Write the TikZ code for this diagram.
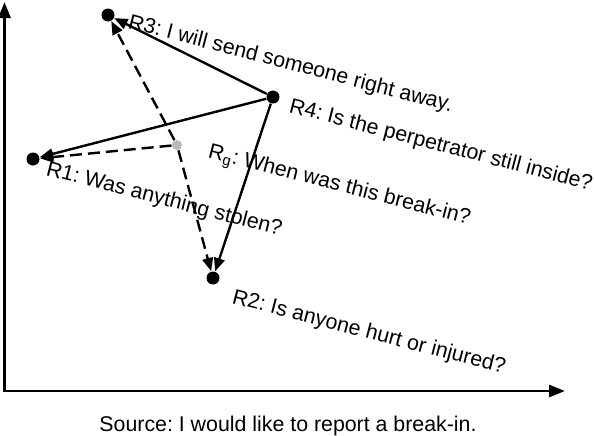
\documentclass[tikz,border=0pt]{standalone}
\usepackage{fontspec}
\setmainfont{Liberation Sans}
\usetikzlibrary{arrows.meta}
\frenchspacing
\tikzset{every picture/.style={line width=0.75pt}}
\tikzset{
  dot/.style={circle,fill=black,inner sep=0pt,minimum size=9.75pt},
  gdot/.style={circle,fill=black!27,inner sep=0pt,minimum size=7.5pt},
  lbl/.style={anchor=base west,inner sep=0pt,rotate=-14.5,font=\fontsize{16}{19}\selectfont},
  move/.style={line width=1.8pt,-{Triangle[length=10pt,width=8pt]}},
  guess/.style={move,dash pattern=on 9pt off 4.5pt},
  axis/.style={line width=2.2pt,{Triangle[length=12pt,width=9pt]}-{Triangle[length=12pt,width=9pt]}}
}

\begin{document}
\begin{tikzpicture}[x=0.75pt,y=0.75pt,yscale=-1,xscale=1]
\useasboundingbox (0,0) rectangle (594,436);
%Axes
\coordinate (ytop) at (4.5,2);
\coordinate (origin) at (4.5,391);
\coordinate (xend) at (565,391);
\draw [axis] (ytop) -- (origin) -- (xend);
% Text Node
\node [lbl] (t3) at (127,28) {R3: I will send someone right away.};
% Text Node
\node [lbl] (t4) at (288,112) {R4: Is the perpetrator still inside?};
% Text Node
\node [lbl] (tg) at (207,157) {R\textsubscript{g}: When was this break-in?};
% Text Node
\node [lbl] (t1) at (45,175) {R1: Was anything stolen?};
% Text Node
\node [lbl] (t2) at (231,303) {R2: Is anyone hurt or injured?};
% Text Node
\node [anchor=base,inner sep=0pt,font=\fontsize{16}{19}\selectfont] (src) at (288,431) {Source: I would like to report a break-in.};
%Shape: Circles
\node [dot] (r3) at (108,15) {};
\node [dot] (r4) at (273,97) {};
\node [dot] (r1) at (33,159) {};
\node [dot] (r2) at (213,278) {};
\node [gdot] (rg) at (177,145) {};
%Straight Lines
\draw [move] (r4) -- (r3);
\draw [move] (r4) -- (r1);
\draw [move] (r4) -- (r2);
%Dashed Lines
\draw [guess] (rg) -- (r3);
\draw [guess] (rg) -- (r1);
\draw [guess] (rg) -- (r2);
\end{tikzpicture}
\end{document}
